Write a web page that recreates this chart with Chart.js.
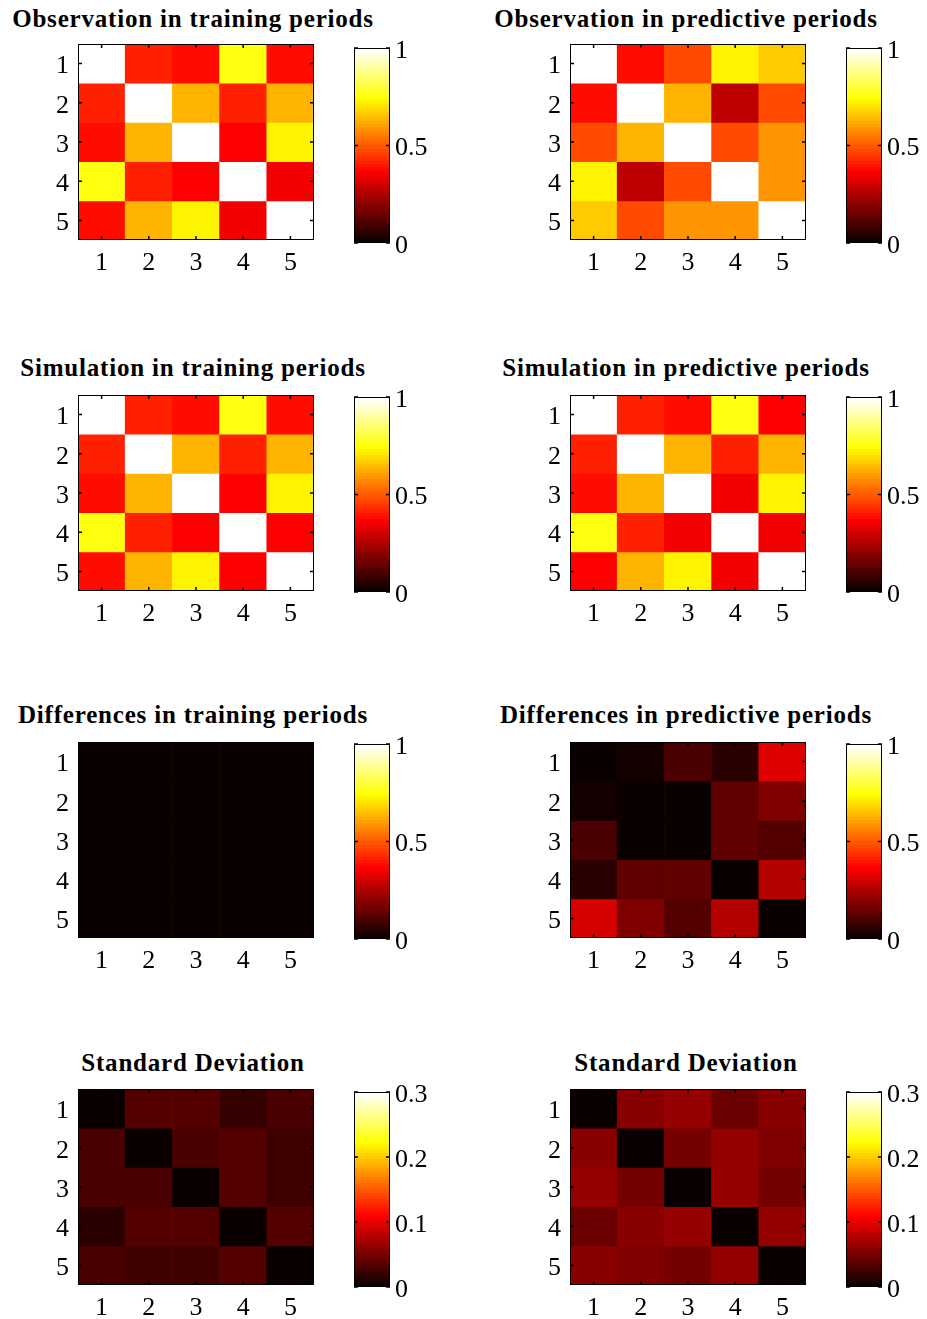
<!DOCTYPE html>
<html>
<head>
<meta charset="utf-8">
<script src="https://cdn.jsdelivr.net/npm/chart.js@4.4.1/dist/chart.umd.min.js"></script>
<style>
html, body { margin: 0; padding: 0; background: #fff; }
#fig { position: relative; width: 927px; height: 1319px; overflow: hidden; }
.ttl { position: absolute; width: 460px; text-align: center; font: bold 25px "Liberation Serif", serif;
       letter-spacing: 0.8px; line-height: 25px; white-space: nowrap; color: #000; }
canvas { position: absolute; }
</style>
</head>
<body>
<div id="fig"></div>
<script>
/* correlation matrices (rows 1..5, cols 1..5) */
var cells = ['1', '2', '3', '4', '5'];

var obsTrain = [
    [1.00, 0.42, 0.39, 0.76, 0.39],
    [0.42, 1.00, 0.63, 0.42, 0.64],
    [0.39, 0.63, 1.00, 0.36, 0.73],
    [0.76, 0.42, 0.36, 1.00, 0.35],
    [0.39, 0.64, 0.73, 0.35, 1.00]
];
var obsPred = [
    [1.00, 0.38, 0.47, 0.72, 0.66],
    [0.38, 1.00, 0.64, 0.27, 0.47],
    [0.47, 0.64, 1.00, 0.48, 0.59],
    [0.72, 0.27, 0.48, 1.00, 0.58],
    [0.66, 0.47, 0.59, 0.58, 1.00]
];
var simTrain = [
    [1.00, 0.42, 0.39, 0.76, 0.38],
    [0.42, 1.00, 0.63, 0.42, 0.64],
    [0.38, 0.63, 1.00, 0.36, 0.73],
    [0.76, 0.42, 0.36, 1.00, 0.36],
    [0.38, 0.64, 0.73, 0.36, 1.00]
];
var simPred = [
    [1.00, 0.42, 0.39, 0.76, 0.37],
    [0.42, 1.00, 0.63, 0.42, 0.64],
    [0.39, 0.63, 1.00, 0.35, 0.73],
    [0.76, 0.42, 0.35, 1.00, 0.35],
    [0.37, 0.64, 0.73, 0.35, 1.00]
];
var diffTrain = [
    [0.00, 0.01, 0.01, 0.01, 0.01],
    [0.01, 0.00, 0.01, 0.01, 0.01],
    [0.01, 0.01, 0.00, 0.01, 0.01],
    [0.01, 0.01, 0.01, 0.00, 0.01],
    [0.01, 0.01, 0.01, 0.01, 0.00]
];
var diffPred = [
    [0.00, 0.03, 0.10, 0.06, 0.32],
    [0.03, 0.00, 0.01, 0.14, 0.18],
    [0.10, 0.01, 0.00, 0.14, 0.12],
    [0.06, 0.14, 0.14, 0.00, 0.26],
    [0.31, 0.18, 0.12, 0.26, 0.00]
];
var stdTrain = [
    [0.002, 0.033, 0.033, 0.021, 0.032],
    [0.032, 0.002, 0.032, 0.035, 0.026],
    [0.032, 0.030, 0.002, 0.035, 0.026],
    [0.018, 0.035, 0.035, 0.002, 0.035],
    [0.032, 0.026, 0.026, 0.035, 0.002]
];
var stdPred = [
    [0.002, 0.059, 0.063, 0.045, 0.059],
    [0.059, 0.002, 0.050, 0.061, 0.055],
    [0.063, 0.047, 0.002, 0.061, 0.050],
    [0.045, 0.059, 0.063, 0.002, 0.063],
    [0.058, 0.055, 0.048, 0.061, 0.002]
];

var corrTicks = [0, 0.5, 1];
var stdTicks  = [0, 0.1, 0.2, 0.3];

var panels = [
    { title: 'Observation in training periods',   m: obsTrain,  ticks: corrTicks },
    { title: 'Observation in predictive periods', m: obsPred,   ticks: corrTicks },
    { title: 'Simulation in training periods',    m: simTrain,  ticks: corrTicks },
    { title: 'Simulation in predictive periods',  m: simPred,   ticks: corrTicks },
    { title: 'Differences in training periods',   m: diffTrain, ticks: corrTicks },
    { title: 'Differences in predictive periods', m: diffPred,  ticks: corrTicks },
    { title: 'Standard Deviation',                m: stdTrain,  ticks: stdTicks },
    { title: 'Standard Deviation',                m: stdPred,   ticks: stdTicks }
];

// ── layout (pixels) ──────────────────────────────────────────────────────
var mapLeft  = [78, 570];
var barLeft  = [354, 846];
var titleMid = [193, 686];
var mapTop   = [44, 395, 742, 1089];
var barTop   = [48, 397, 744, 1092];
var titleTop = [6, 355, 702, 1050];
var MAP_W = 236, MAP_H = 196, BAR_W = 36, BAR_H = 195;

var tickFont = { family: '"Liberation Serif", "Times New Roman", serif', size: 26 };
Chart.defaults.font.family = tickFont.family;
Chart.defaults.font.size = tickFont.size;
Chart.defaults.color = '#000';
Chart.defaults.animation = false;

// MATLAB 'hot', 64 levels
function hot(t) {
    var k = Math.max(0, Math.min(63, Math.floor(t * 64))) + 1;
    var r = Math.min(1, k / 24), g = Math.max(0, Math.min(1, (k - 24) / 24)), b = Math.max(0, Math.min(1, (k - 48) / 16));
    return 'rgb(' + Math.round(r * 255) + ',' + Math.round(g * 255) + ',' + Math.round(b * 255) + ')';
}

// box + small inward ticks, MATLAB style
var framePlugin = {
    id: 'frame',
    afterDraw: function (chart) {
        var a = chart.chartArea, ctx = chart.ctx, len = 4;
        var xs = [], ys = [];
        var sx = chart.scales.x, sy = chart.scales.y;
        if (sx.options.display) { sx.ticks.forEach(function (t, i) { xs.push(sx.getPixelForTick(i)); }); }
        sy.ticks.forEach(function (t, i) { ys.push(sy.getPixelForTick(i)); });
        ctx.save();
        ctx.strokeStyle = '#000';
        ctx.lineWidth = 1;
        ctx.strokeRect(Math.round(a.left) + 0.5, Math.round(a.top) + 0.5,
                       Math.round(a.right - a.left) - 1, Math.round(a.bottom - a.top) - 1);
        ctx.lineWidth = 1.5;
        ctx.beginPath();
        xs.forEach(function (x) {
            ctx.moveTo(x, a.top); ctx.lineTo(x, a.top + len);
            ctx.moveTo(x, a.bottom); ctx.lineTo(x, a.bottom - len);
        });
        ys.forEach(function (y) {
            ctx.moveTo(a.left, y); ctx.lineTo(a.left + len, y);
            ctx.moveTo(a.right, y); ctx.lineTo(a.right - len, y);
        });
        ctx.stroke();
        ctx.restore();
    }
};

function addCanvas(left, top, w, h) {
    var c = document.createElement('canvas');
    c.width = w; c.height = h;
    c.style.left = left + 'px'; c.style.top = top + 'px';
    c.style.width = w + 'px'; c.style.height = h + 'px';
    document.getElementById('fig').appendChild(c);
    return c;
}

function noEdgePadding(s) {
    s.paddingTop = 0; s.paddingBottom = 0;
}

function drawMap(p, col, row) {
    var vmax = p.ticks[p.ticks.length - 1];
    var padL = 45, padT = 8, padR = 8, padB = 45;
    var cv = addCanvas(mapLeft[col] - padL, mapTop[row] - padT, MAP_W + padL + padR, MAP_H + padT + padB);

    // one floating-bar dataset per matrix row, coloured cell by cell
    var datasets = p.m.map(function (rowVals, i) {
        return {
            data: rowVals.map(function () { return [i + 0.5, i + 1.5]; }),
            backgroundColor: rowVals.map(function (v) { return hot(v / vmax); }),
            borderWidth: 0,
            barPercentage: 1,
            categoryPercentage: 1,
            grouped: false
        };
    });

    new Chart(cv.getContext('2d'), {
        type: 'bar',
        data: { labels: cells, datasets: datasets },
        plugins: [framePlugin],
        options: {
            responsive: false,
            layout: { padding: { left: 0, top: padT, right: padR, bottom: 0 } },
            plugins: { legend: { display: false }, tooltip: { enabled: false } },
            scales: {
                x: {
                    type: 'category', offset: true,
                    grid: { display: false, drawTicks: false }, border: { display: false },
                    ticks: { padding: 8, maxRotation: 0, font: tickFont },
                    afterFit: function (s) { s.height = padB; s.paddingLeft = 0; s.paddingRight = 0; }
                },
                y: {
                    type: 'linear', min: 0.5, max: 5.5, reverse: true,
                    grid: { display: false, drawTicks: false }, border: { display: false },
                    ticks: { padding: 9, labelOffset: 3, font: tickFont, callback: function (v) { return cells[v - 1]; } },
                    afterBuildTicks: function (s) { s.ticks = cells.map(function (c, i) { return { value: i + 1 }; }); },
                    afterFit: function (s) { s.width = padL; noEdgePadding(s); }
                }
            }
        }
    });
}

function drawBar(p, col, row) {
    var vmax = p.ticks[p.ticks.length - 1];
    var padL = 4, padT = 16, padR = 60, padB = 20;
    var cv = addCanvas(barLeft[col] - padL, barTop[row] - padT, BAR_W + padL + padR, BAR_H + padT + padB);

    new Chart(cv.getContext('2d'), {
        type: 'bar',
        data: {
            labels: [''],
            datasets: [{
                data: [[0, vmax]],
                barPercentage: 1,
                categoryPercentage: 1,
                borderWidth: 0,
                backgroundColor: function (ctx) {
                    var a = ctx.chart.chartArea;
                    if (!a) return '#000';
                    var g = ctx.chart.ctx.createLinearGradient(0, a.bottom, 0, a.top);
                    for (var k = 0; k < 64; k++) {
                        g.addColorStop(k / 64, hot((k + 0.5) / 64));
                        g.addColorStop((k + 1) / 64, hot((k + 0.5) / 64));
                    }
                    return g;
                }
            }]
        },
        plugins: [framePlugin],
        options: {
            responsive: false,
            layout: { padding: { left: padL, top: padT, right: 0, bottom: padB } },
            plugins: { legend: { display: false }, tooltip: { enabled: false } },
            scales: {
                x: { display: false },
                y: {
                    position: 'right', min: 0, max: vmax,
                    grid: { display: false, drawTicks: false }, border: { display: false },
                    ticks: { padding: 5, labelOffset: 3, font: tickFont, callback: function (v) { return String(v); } },
                    afterBuildTicks: function (s) { s.ticks = p.ticks.map(function (v) { return { value: v }; }); },
                    afterFit: function (s) { s.width = padR; noEdgePadding(s); }
                }
            }
        }
    });
}

panels.forEach(function (p, idx) {
    var col = idx % 2, row = Math.floor(idx / 2);
    var t = document.createElement('div');
    t.className = 'ttl';
    t.textContent = p.title;
    t.style.left = (titleMid[col] - 230) + 'px';
    t.style.top = titleTop[row] + 'px';
    document.getElementById('fig').appendChild(t);
    drawMap(p, col, row);
    drawBar(p, col, row);
});
</script>
</body>
</html>
